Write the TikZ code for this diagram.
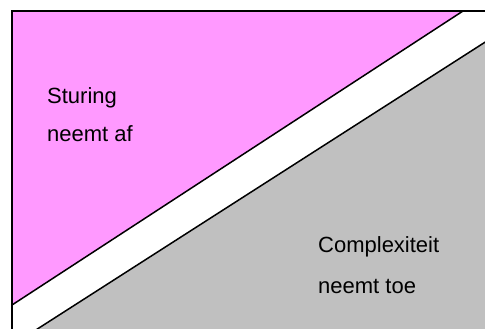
\documentclass[tikz,border=0pt]{standalone}
\usepackage{fontspec}
\setmainfont{Liberation Sans}
\definecolor{cPink}{RGB}{255,153,255}
\definecolor{cGrey}{RGB}{192,192,192}
\tikzset{
    edge/.style={draw=black, line width=1.5pt},
    frame/.style={draw=black, line width=2pt, line join=miter},
    lbl/.style={anchor=base west, inner sep=0pt, font=\fontsize{22}{26}\selectfont},
}
\begin{document}
\begin{tikzpicture}[x=1pt, y=-1pt]
    \useasboundingbox (0,0) rectangle (485,329);
    \clip (0,0) rectangle (485,329);
    % upper wedge
    \fill[cPink] (12,11) -- (463,11) -- (12,305) -- cycle;
    \draw[edge] (463,11) -- (12,305);
    % lower wedge
    \fill[cGrey] (28,335) -- (490,39) -- (490,335) -- cycle;
    \draw[edge] (28,335) -- (490,39);
    % frame
    \draw[frame] (12,340) -- (12,11) -- (500,11);
    % labels
    \node[lbl] (sturing) at (47,103) {Sturing};
    \node[lbl] (af) at (47,142) {neemt af};
    \node[lbl] (complex) at (318,252) {Complexiteit};
    \node[lbl] (toe) at (318,293) {neemt toe};
\end{tikzpicture}
\end{document}
